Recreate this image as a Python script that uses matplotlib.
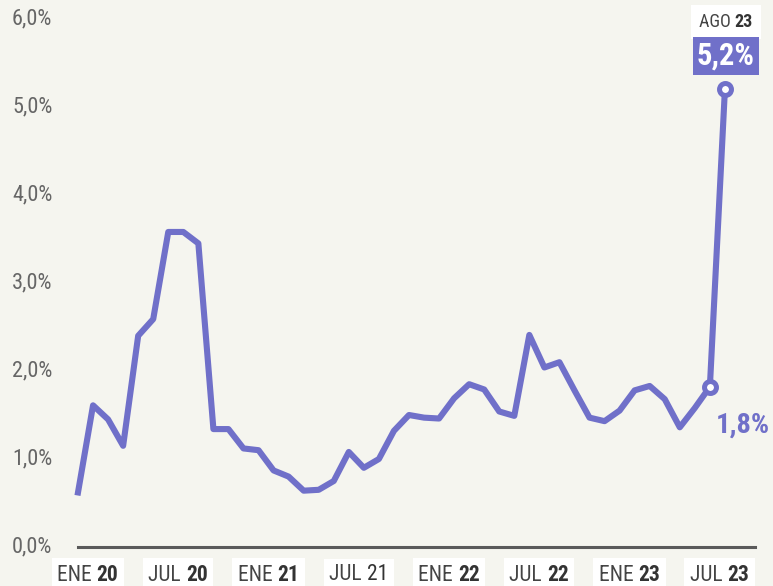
import matplotlib
matplotlib.use("Agg")
import matplotlib.pyplot as plt
from matplotlib.offsetbox import TextArea, HPacker, AnnotationBbox
import matplotlib.transforms as mtransforms

# ---- data ----
values = [0.62, 1.61, 1.45, 1.15, 2.40, 2.59, 3.58, 3.58, 3.45, 1.34, 1.34, 1.12,
          1.10, 0.87, 0.80, 0.64, 0.65, 0.75, 1.08, 0.90, 1.00, 1.32, 1.50, 1.47,
          1.46, 1.69, 1.85, 1.79, 1.54, 1.49, 2.41, 2.04, 2.10, 1.78, 1.47, 1.43,
          1.55, 1.78, 1.83, 1.68, 1.36, 1.58, 1.82, 5.2]
tick_pos = [0, 6, 12, 18, 24, 30, 36, 42]
tick_month = ["ENE", "JUL", "ENE", "JUL", "ENE", "JUL", "ENE", "JUL"]
tick_year = ["20", "20", "21", "21", "22", "22", "23", "23"]
tick_year_bold = [True, True, True, False, True, True, True, True]
y_ticks = [0, 1, 2, 3, 4, 5, 6]
y_labels = ["0,0%", "1,0%", "2,0%", "3,0%", "4,0%", "5,0%", "6,0%"]
last_label_month = "AGO"
last_label_year = "23"
last_value_text = "5,2%"
prev_value_text = "1,8%"

FONT = ["Roboto Condensed", "DejaVu Sans Condensed", "Roboto", "DejaVu Sans"]
plt.rcParams["font.family"] = FONT

BG = "#f5f5ef"
PURPLE = "#7070c9"
GRAY = "#5a5a5a"

W, H = 773, 586
fig = plt.figure(figsize=(W / 100, H / 100), dpi=100, facecolor=BG)
x0_px, x1_px = 78, 755
y0_px, y6_px = 547, 19
ax = fig.add_axes([x0_px / W, (H - y0_px) / H, (x1_px - x0_px) / W, (y0_px - y6_px) / H])
ax.set_facecolor(BG)
ax.set_xlim(0, 45)
ax.set_ylim(0, 6)
for s in ax.spines.values():
    s.set_visible(False)
ax.set_xticks([])
ax.set_yticks([])

# baseline
ax.axhline(0, color=GRAY, lw=2.2, clip_on=False)

xs = list(range(len(values)))
ax.plot(xs, values, color=PURPLE, lw=4.4, solid_joinstyle="round", clip_on=False, zorder=3)
ax.plot(xs[-2:], values[-2:], ls="none", marker="o", ms=8.6, mew=3.6,
        mfc="white", mec=PURPLE, clip_on=False, zorder=4)

# y tick labels
tr_y = mtransforms.blended_transform_factory(fig.transFigure, ax.transData)
for v, lab in zip(y_ticks, y_labels):
    ax.text(12 / W, v, lab, transform=tr_y, ha="left", va="center",
            fontsize=16, color="#666666")

# x tick labels with white boxes
tr_x = mtransforms.blended_transform_factory(ax.transData, fig.transFigure)
for p, m, yv, b in zip(tick_pos, tick_month, tick_year, tick_year_bold):
    t1 = TextArea(m + " ", textprops=dict(fontsize=15.5, color="#444444", family=FONT))
    t2 = TextArea(yv, textprops=dict(fontsize=15.5, color="#333333", family=FONT,
                                     fontweight="bold" if b else "normal"))
    box = HPacker(children=[t1, t2], sep=0, pad=0, align="baseline")
    ab = AnnotationBbox(box, (p + 0.65, (H - 575) / H), xycoords=tr_x, frameon=True,
                        box_alignment=(0.5, 0.5),
                        bboxprops=dict(fc="white", ec="none", boxstyle="square,pad=0.4"))
    ab.set_clip_on(False)
    ax.add_artist(ab)

# last value annotation
t1 = TextArea(last_label_month + " ", textprops=dict(fontsize=13, color="#444444", family=FONT))
t2 = TextArea(last_label_year, textprops=dict(fontsize=13, color="#333333", family=FONT,
                                              fontweight="bold"))
box = HPacker(children=[t1, t2], sep=0, pad=0, align="baseline")
ab = AnnotationBbox(box, (726 / W, (H - 22) / H), xycoords="figure fraction", frameon=True,
                    box_alignment=(0.5, 0.5),
                    bboxprops=dict(fc="white", ec="none", boxstyle="square,pad=0.55"))
fig.add_artist(ab)

fig.text(726 / W, (H - 56) / H, last_value_text, ha="center", va="center",
         fontsize=22, fontweight="bold", color="white",
         bbox=dict(fc=PURPLE, ec="none", boxstyle="square,pad=0.12"))

fig.text(743 / W, (H - 425) / H, prev_value_text, ha="center", va="center",
         fontsize=20.5, fontweight="bold", color=PURPLE)

fig.savefig("out.png", dpi=100, facecolor=BG)
